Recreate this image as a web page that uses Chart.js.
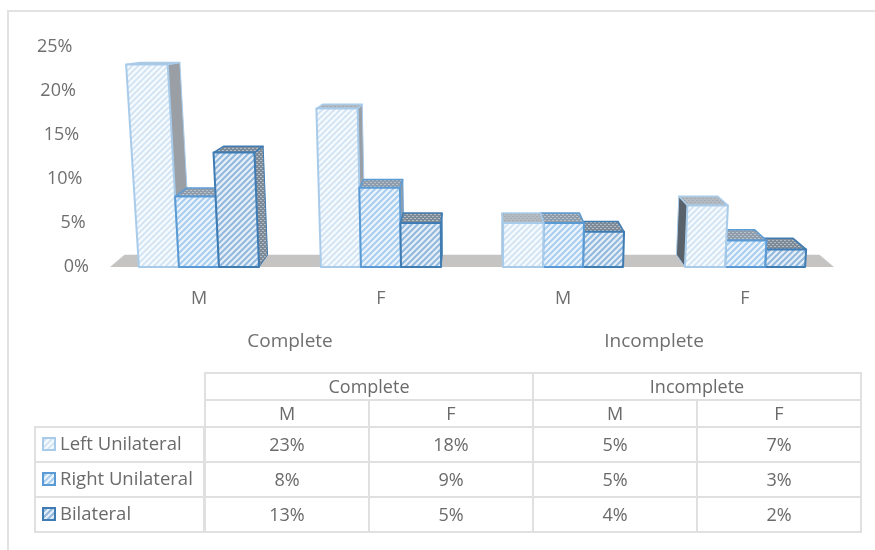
<!DOCTYPE html>
<html lang="en">
<head>
<meta charset="UTF-8" />
<title>Unilateral and bilateral cases</title>
<script src="https://cdn.jsdelivr.net/npm/chart.js@4/dist/chart.umd.min.js"></script>
<style>
  html, body { margin: 0; padding: 0; background: #fff; }
  body { width: 875px; height: 550px; position: relative; overflow: hidden; font-family: "Open Sans", sans-serif; color: #6a6a6a; }
  .frame { position: absolute; left: 7px; top: 10px; right: 0; bottom: -4px; border: 2px solid #e2e2e2; border-right: 0; border-bottom: 0; }
  .chart-box { position: absolute; left: 0; top: 0; width: 875px; height: 550px; }
  table { position: absolute; left: 204px; top: 372px; width: 658px; border-collapse: collapse; table-layout: fixed; font-size: 18px; line-height: 20px; }
  #side { left: 34px; top: 426px; width: 171px; }
  td { border: 2px solid #e0e0e0; text-align: center; padding: 0 0 2px; height: 23px; white-space: nowrap; }
  tr.row td { height: 31px; }
  #side td { text-align: left; padding: 0 0 3px 6px; height: 30px; font-size: 18.5px; }
  .key { display: inline-block; width: 14px; height: 14px; margin-right: 4px; vertical-align: -1px; }
</style>
</head>
<body>
<div class="frame"></div>
<div class="chart-box"><canvas id="chart" width="875" height="550"></canvas></div>
<table id="side"></table>
<table id="values"></table>
<script>
// data
var groups = ['Complete', 'Incomplete'];
var genders = ['M', 'F', 'M', 'F'];
var seriesNames = ['Left Unilateral', 'Right Unilateral', 'Bilateral'];
var leftUnilateral = [23, 18, 5, 7];
var rightUnilateral = [8, 9, 5, 3];
var bilateral = [13, 5, 4, 2];
var yTicks = [0, 5, 10, 15, 20, 25];

var borderColors = ['#a9cbea', '#5b9bd5', '#3f7cb3'];
var stripeColors = ['#d3e4f4', '#a8cdee', '#92b8dc'];
var paperColors = ['#f8fbfe', '#edf5fc', '#e6eff8'];

// diagonal hatch used on the front of the bars
function hatch(stripe, paper) {
  var c = document.createElement('canvas');
  c.width = c.height = 6;
  var g = c.getContext('2d');
  g.fillStyle = paper;
  g.fillRect(0, 0, 6, 6);
  g.strokeStyle = stripe;
  g.lineWidth = 2;
  g.beginPath();
  g.moveTo(-2, 8); g.lineTo(8, -2);
  g.moveTo(-2, 2); g.lineTo(2, -2);
  g.moveTo(4, 8); g.lineTo(8, 4);
  g.stroke();
  return g.createPattern(c, 'repeat');
}

// speckled grey for the tops of the bars
function speckle(base, dot) {
  var c = document.createElement('canvas');
  c.width = c.height = 4;
  var g = c.getContext('2d');
  g.fillStyle = base;
  g.fillRect(0, 0, 4, 4);
  g.fillStyle = dot;
  g.fillRect(0, 0, 2, 1);
  g.fillRect(2, 2, 2, 1);
  return g.createPattern(c, 'repeat');
}

var hatches = borderColors.map(function (c, i) { return hatch(stripeColors[i], paperColors[i]); });
var tops = [speckle('#b4bbc3', '#a2aab3'), speckle('#8e9cab', '#b9c2cb'), speckle('#7d8a97', '#b4bdc6')];

// the fake 3d view: everything leans towards one vanishing point
var vpX = 472, vpY = 24, depthX = 0.04, depthY = 0.05, lean = 0.00019;

function backPoint(x, y) {
  return [x + (vpX - x) * depthX, y + (vpY - y) * depthY];
}

function poly(ctx, pts, fill, stroke, width) {
  ctx.beginPath();
  pts.forEach(function (p, i) { i ? ctx.lineTo(p[0], p[1]) : ctx.moveTo(p[0], p[1]); });
  ctx.closePath();
  ctx.fillStyle = fill;
  ctx.fill();
  if (stroke) {
    ctx.strokeStyle = stroke;
    ctx.lineWidth = width;
    ctx.lineJoin = 'round';
    ctx.stroke();
  }
}

function drawBar(ctx, bar, d) {
  var l = bar.x - bar.width / 2, r = bar.x + bar.width / 2;
  var h = bar.base - bar.y;
  var tl = [l + (l - vpX) * lean * h, bar.y];
  var tr = [r + (r - vpX) * lean * h, bar.y];
  var bl = [l, bar.base], br = [r, bar.base];
  var tlB = backPoint(tl[0], tl[1]), trB = backPoint(tr[0], tr[1]);
  var blB = backPoint(l, bar.base), brB = backPoint(r, bar.base);

  // side wall, only one of them shows depending on where the bar stands
  if (r < vpX) {
    poly(ctx, [tr, trB, brB, br], d.order === 2 ? tops[2] : '#9a9fa6', d.borderColor, 1);
  } else if (l > vpX) {
    poly(ctx, [tl, tlB, blB, bl], '#59616a', d.borderColor, 1);
  }
  poly(ctx, [tl, tr, trB, tlB], tops[d.order], d.borderColor, 1.5);
  poly(ctx, [bl, br, tr, tl], d.backgroundColor, d.borderColor, 2);
}

var view3d = {
  id: 'view3d',
  beforeDatasetsDraw: function (chart) {
    var ctx = chart.ctx;
    var x = chart.scales.x, y = chart.scales.y;
    var y0 = y.getPixelForValue(0);

    // floor
    var a = [x.left + 2, y0], b = [x.right - 2, y0];
    poly(ctx, [a, b, backPoint(b[0], b[1]), backPoint(a[0], a[1])], '#c6c4c2');

    // y labels step outwards with height, so they are placed by hand from the scale
    ctx.save();
    ctx.font = '18px "Open Sans", sans-serif';
    ctx.fillStyle = '#6f6f6f';
    ctx.textAlign = 'right';
    ctx.textBaseline = 'middle';
    yTicks.forEach(function (t) {
      ctx.fillText(t + '%', 89 - t * 0.66, y.getPixelForValue(t));
    });
    ctx.restore();

    // bars furthest from the vanishing point go first
    var items = [];
    chart.data.datasets.forEach(function (d, i) {
      chart.getDatasetMeta(i).data.forEach(function (bar) {
        items.push({ bar: bar, d: d, i: i });
      });
    });
    items.sort(function (p, q) { return Math.abs(q.bar.x - vpX) - Math.abs(p.bar.x - vpX); });
    items.forEach(function (it) { drawBar(ctx, it.bar, it.d); });
  },
  // bars are all drawn above
  beforeDatasetDraw: function () { return false; }
};

function makeDataset(name, values, i) {
  return {
    label: name,
    data: values,
    order: i,
    backgroundColor: hatches[i],
    borderColor: borderColors[i]
  };
}

new Chart(document.getElementById('chart'), {
  type: 'bar',
  data: {
    labels: genders,
    datasets: [
      makeDataset(seriesNames[0], leftUnilateral, 0),
      makeDataset(seriesNames[1], rightUnilateral, 1),
      makeDataset(seriesNames[2], bilateral, 2)
    ]
  },
  options: {
    responsive: false,
    animation: false,
    layout: { padding: { left: 108, right: 39, top: 47, bottom: 173 } },
    categoryPercentage: 0.66,
    barPercentage: 1,
    plugins: { legend: { display: false }, title: { display: false }, tooltip: { enabled: false } },
    scales: {
      y: { display: false, min: 0, max: 25 },
      x: {
        offset: true,
        grid: { display: false },
        border: { display: false },
        ticks: { color: '#6f6f6f', font: { family: '"Open Sans", sans-serif', size: 18 }, padding: 13 },
        afterFit: function (s) { s.height = 55; }
      },
      x2: {
        type: 'category',
        position: 'bottom',
        labels: groups,
        offset: true,
        grid: { display: false },
        border: { display: false },
        ticks: { color: '#6f6f6f', font: { family: '"Open Sans", sans-serif', size: 19 }, padding: 0 },
        afterFit: function (s) { s.height = 55; }
      }
    }
  },
  plugins: [view3d]
});

// data table under the chart
var sideHtml = '';
seriesNames.forEach(function (name, i) {
  var key = document.createElement('canvas');
  key.width = key.height = 14;
  var g = key.getContext('2d');
  g.fillStyle = hatches[i];
  g.fillRect(0, 0, 14, 14);
  g.strokeStyle = borderColors[i];
  g.lineWidth = 2;
  g.strokeRect(1, 1, 12, 12);
  sideHtml += '<tr class="row"><td><img class="key" src="' + key.toDataURL() + '">' + name + '</td></tr>';
});
document.getElementById('side').innerHTML = sideHtml;

var allSeries = [leftUnilateral, rightUnilateral, bilateral];
var html = '<tr>' + groups.map(function (g) { return '<td colspan="2">' + g + '</td>'; }).join('') + '</tr>';
html += '<tr>' + genders.map(function (g) { return '<td>' + g + '</td>'; }).join('') + '</tr>';
allSeries.forEach(function (vals) {
  html += '<tr class="row">' + vals.map(function (v) { return '<td>' + v + '%</td>'; }).join('') + '</tr>';
});
document.getElementById('values').innerHTML = html;
</script>
</body>
</html>
